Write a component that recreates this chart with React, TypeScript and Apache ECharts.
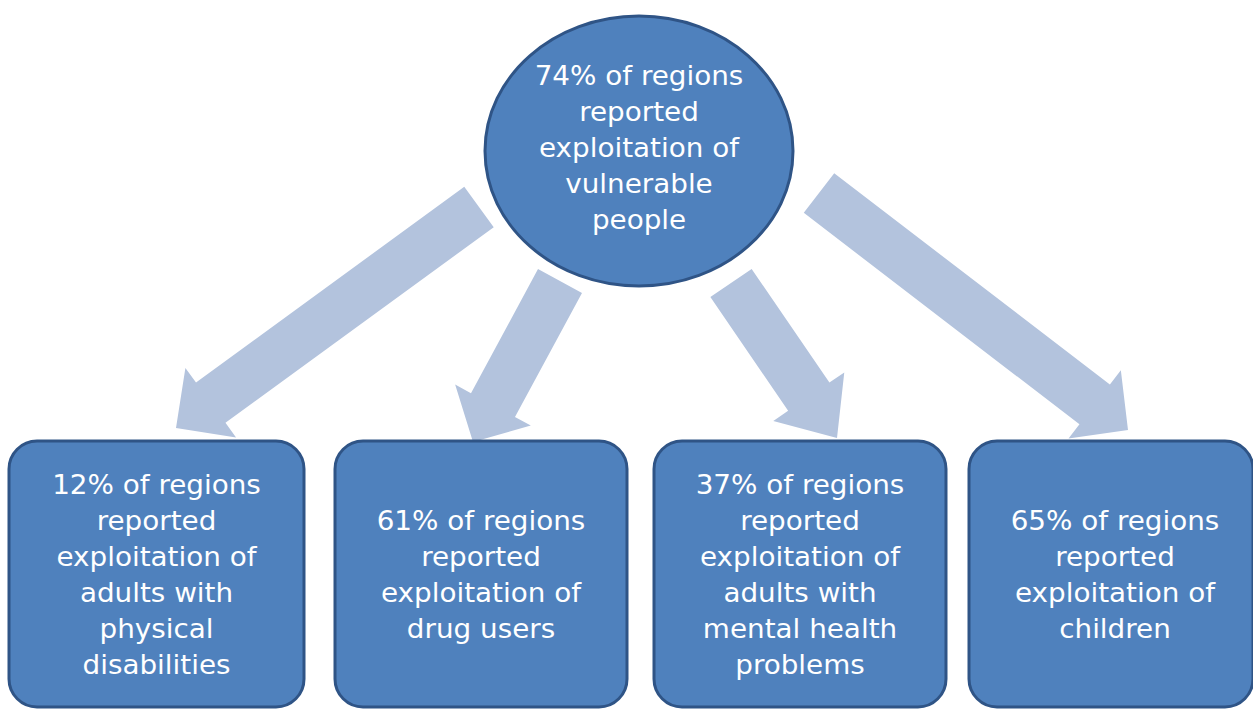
import React, { useEffect, useRef } from "react";
import * as echarts from "echarts";

// Diagram content
const centerLabel = ["74% of regions", "reported", "exploitation of", "vulnerable", "people"];
const boxLabels: string[][] = [
  ["12% of regions", "reported", "exploitation of", "adults with", "physical", "disabilities"],
  ["61% of regions", "reported", "exploitation of", "drug users"],
  ["37% of regions", "reported", "exploitation of", "adults with", "mental health", "problems"],
  ["65% of regions", "reported", "exploitation of", "children"],
];

const FILL = "#4f81bd";
const BORDER = "#2f5486";
const ARROW = "#b3c3dd";
const FONT = "'DejaVu Sans'";
const FONT_SIZE = 26;
const TEXT_SCALE_X = 1.07;

type Pt = [number, number];

function arrowPoints(tail: Pt, tip: Pt, shaftW: number, headW: number, headL: number): Pt[] {
  const dx = tip[0] - tail[0];
  const dy = tip[1] - tail[1];
  const len = Math.hypot(dx, dy);
  const ux = dx / len, uy = dy / len;
  const nx = -uy, ny = ux;
  const bx = tip[0] - ux * headL, by = tip[1] - uy * headL;
  const s = shaftW / 2, h = headW / 2;
  return [
    [tail[0] + nx * s, tail[1] + ny * s],
    [bx + nx * s, by + ny * s],
    [bx + nx * h, by + ny * h],
    [tip[0], tip[1]],
    [bx - nx * h, by - ny * h],
    [bx - nx * s, by - ny * s],
    [tail[0] - nx * s, tail[1] - ny * s],
  ];
}

function label(x: number, y: number, lines: string[]) {
  return {
    type: "text",
    x,
    y,
    scaleX: TEXT_SCALE_X,
    style: {
      text: lines.join("\n"),
      fill: "#ffffff",
      font: `${FONT_SIZE}px ${FONT}`,
      align: "center",
      verticalAlign: "middle",
      lineHeight: 36,
    },
  };
}

export default function App() {
  const ref = useRef<HTMLDivElement>(null);
  useEffect(() => {
    if (!ref.current) return;
    const chart = echarts.init(ref.current, undefined, { renderer: "svg" });

    const arrows: { tail: Pt; tip: Pt; headL: number }[] = [
      { tail: [479, 207], tip: [176, 428], headL: 43 },
      { tail: [560, 281], tip: [473, 442], headL: 42 },
      { tail: [731, 283], tip: [837, 438], headL: 50 },
      { tail: [819, 193], tip: [1128, 430], headL: 42 },
    ];

    const boxX = [9, 335, 654, 969];
    const boxW = [295, 292, 292, 284];
    const boxY = 441;
    const boxH = 266;

    const elements: any[] = [];
    arrows.forEach((a) => {
      elements.push({
        type: "polygon",
        shape: { points: arrowPoints(a.tail, a.tip, 50, 86, a.headL) },
        style: { fill: ARROW },
      });
    });
    elements.push({
      type: "ellipse",
      shape: { cx: 639, cy: 151, rx: 154, ry: 135 },
      style: { fill: FILL, stroke: BORDER, lineWidth: 3 },
    });
    elements.push(label(639, 148, centerLabel));
    boxLabels.forEach((lines, i) => {
      elements.push({
        type: "rect",
        shape: { x: boxX[i], y: boxY, width: boxW[i], height: boxH, r: 28 },
        style: { fill: FILL, stroke: BORDER, lineWidth: 3 },
      });
      const cx = i === 3 ? 1115 : boxX[i] + boxW[i] / 2;
      elements.push(label(cx, boxY + boxH / 2 + 1, lines));
    });

    chart.setOption({
      animation: false,
      backgroundColor: "#ffffff",
      graphic: { elements },
    });
    return () => chart.dispose();
  }, []);
  return (
    <div
      ref={ref}
      style={{ position: "fixed", left: 0, top: 0, width: 1253, height: 709 }}
    />
  );
}
